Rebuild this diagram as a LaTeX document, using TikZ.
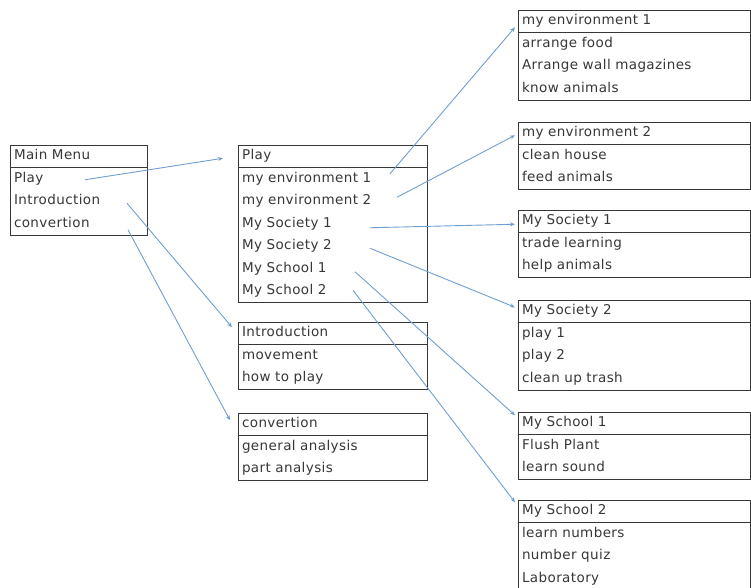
\documentclass[tikz,border=0pt]{standalone}
\usepackage{fontspec}
\setmainfont{DejaVu Sans}[LetterSpace=3.0]
\usepackage{xcolor}
\usetikzlibrary{arrows.meta, positioning, calc}
\definecolor{linkblue}{RGB}{112,158,208}
\definecolor{textgray}{RGB}{55,55,55}
\definecolor{framegray}{RGB}{55,55,55}

\begin{document}
\begin{tikzpicture}[
    x=1pt, y=-1pt,
    node distance=0pt,
    >={Stealth[length=5pt, width=4pt]},
    menuitem/.style={rectangle, anchor=north west, text width=#1, minimum height=22.5pt, inner xsep=4pt, inner ysep=0pt, outer sep=0pt, text height=10pt, text depth=3pt, align=left, font=\fontsize{13.5}{16}\selectfont, text=textgray},
    menuhead/.style={menuitem=#1, draw=framegray, line width=0.9pt},
    frame/.style={draw=framegray, line width=0.9pt},
    link/.style={->, draw=linkblue, line width=0.9pt}
]
\useasboundingbox (0,0) rectangle (751,587);

% Main menu
\node[menuhead=129pt] (mm0) at (10,145) {Main Menu};
\node[menuitem=129pt, below=of mm0] (mm1) {Play};
\node[menuitem=129pt, below=of mm1] (mm2) {Introduction};
\node[menuitem=129pt, below=of mm2] (mm3) {convertion};
\draw[frame] (mm0.north west) rectangle (mm3.south east);

% Second column
\node[menuhead=181pt] (pl0) at (238,145) {Play};
\node[menuitem=181pt, below=of pl0] (pl1) {my environment 1};
\node[menuitem=181pt, below=of pl1] (pl2) {my environment 2};
\node[menuitem=181pt, below=of pl2] (pl3) {My Society 1};
\node[menuitem=181pt, below=of pl3] (pl4) {My Society 2};
\node[menuitem=181pt, below=of pl4] (pl5) {My School 1};
\node[menuitem=181pt, below=of pl5] (pl6) {My School 2};
\draw[frame] (pl0.north west) rectangle (pl6.south east);

\node[menuhead=181pt] (in0) at (238,322) {Introduction};
\node[menuitem=181pt, below=of in0] (in1) {movement};
\node[menuitem=181pt, below=of in1] (in2) {how to play};
\draw[frame] (in0.north west) rectangle (in2.south east);

\node[menuhead=181pt] (cv0) at (238,413) {convertion};
\node[menuitem=181pt, below=of cv0] (cv1) {general analysis};
\node[menuitem=181pt, below=of cv1] (cv2) {part analysis};
\draw[frame] (cv0.north west) rectangle (cv2.south east);

% Third column
\node[menuhead=224pt] (ea0) at (518,10) {my environment 1};
\node[menuitem=224pt, below=of ea0] (ea1) {arrange food};
\node[menuitem=224pt, below=of ea1] (ea2) {Arrange wall magazines};
\node[menuitem=224pt, below=of ea2] (ea3) {know animals};
\draw[frame] (ea0.north west) rectangle (ea3.south east);

\node[menuhead=224pt] (eb0) at (518,122) {my environment 2};
\node[menuitem=224pt, below=of eb0] (eb1) {clean house};
\node[menuitem=224pt, below=of eb1] (eb2) {feed animals};
\draw[frame] (eb0.north west) rectangle (eb2.south east);

\node[menuhead=224pt] (sa0) at (518,210) {My Society 1};
\node[menuitem=224pt, below=of sa0] (sa1) {trade learning};
\node[menuitem=224pt, below=of sa1] (sa2) {help animals};
\draw[frame] (sa0.north west) rectangle (sa2.south east);

\node[menuhead=224pt] (sb0) at (518,300) {My Society 2};
\node[menuitem=224pt, below=of sb0] (sb1) {play 1};
\node[menuitem=224pt, below=of sb1] (sb2) {play 2};
\node[menuitem=224pt, below=of sb2] (sb3) {clean up trash};
\draw[frame] (sb0.north west) rectangle (sb3.south east);

\node[menuhead=224pt] (ka0) at (518,412) {My School 1};
\node[menuitem=224pt, below=of ka0] (ka1) {Flush Plant};
\node[menuitem=224pt, below=of ka1] (ka2) {learn sound};
\draw[frame] (ka0.north west) rectangle (ka2.south east);

\node[menuhead=224pt] (kb0) at (518,500) {My School 2};
\node[menuitem=224pt, below=of kb0] (kb1) {learn numbers};
\node[menuitem=224pt, below=of kb1] (kb2) {number quiz};
\node[menuitem=224pt, below=of kb2] (kb3) {Laboratory};
\draw[frame] (kb0.north west) rectangle (kb3.south east);

% Links
\draw[link] ($(mm1.west)+(75,1)$) -- ($(pl0.west)+(-15,2)$);
\draw[link] ($(mm2.west)+(117,2)$) -- ($(in0.west)+(-6,-6)$);
\draw[link] ($(mm3.west)+(118,6)$) -- ($(cv0.west)+(-8,-4)$);
\draw[link] ($(pl1.west)+(152,-5)$) -- ($(ea0.west)+(-3,6)$);
\draw[link] ($(pl2.west)+(159,-4)$) -- ($(eb0.west)+(-3,2)$);
\draw[link] ($(pl3.west)+(132,4)$) -- ($(sa0.west)+(-3,3)$);
\draw[link] ($(pl4.west)+(132,2)$) -- ($(sb0.west)+(-3,-4)$);
\draw[link] ($(pl5.west)+(117,3)$) -- ($(ka0.west)+(-3,-8)$);
\draw[link] ($(pl6.west)+(115,-1)$) -- ($(kb0.west)+(-3,-9)$);

\end{tikzpicture}
\end{document}
